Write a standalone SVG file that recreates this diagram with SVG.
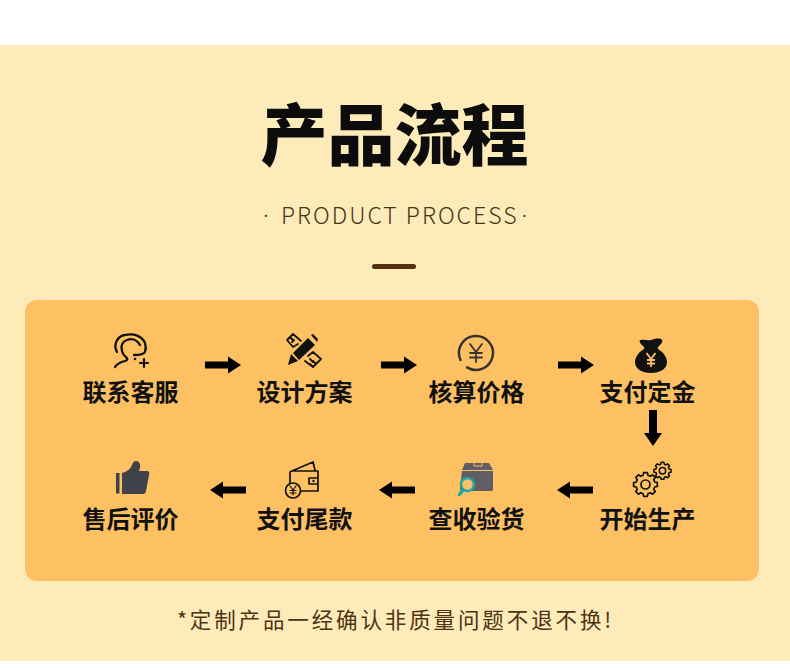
<svg xmlns="http://www.w3.org/2000/svg" width="790" height="670" viewBox="0 0 790 670">
<style>
.cjk{font-family:"Noto Sans CJK SC","Noto Sans",sans-serif}
.lab{font-size:24px;font-weight:700;fill:#111;text-anchor:middle}
.ln{fill:none;stroke:#111;stroke-width:2;stroke-linecap:round;stroke-linejoin:round}
.dk{fill:#111}
.arr{fill:#000}
.sub{font-size:23px;font-weight:300;fill:#4f3213;letter-spacing:2px}
</style>
<defs>
<path id="gear" d="M9.18-2.46L11.85-1.88V1.88L9.18 2.46L8.23 4.75L9.71 7.05L7.05 9.71L4.75 8.23L2.46 9.18L1.88 11.85H-1.88L-2.46 9.18L-4.75 8.23L-7.05 9.71L-9.71 7.05L-8.23 4.75L-9.18 2.46L-11.85 1.88V-1.88L-9.18-2.46L-8.23-4.75L-9.71-7.05L-7.05-9.71L-4.75-8.23L-2.46-9.18L-1.88-11.85H1.88L2.46-9.18L4.75-8.23L7.05-9.71L9.71-7.05L8.23-4.75Z"/>
</defs>
<rect width="790" height="670" fill="#fff"/>
<rect y="45" width="790" height="616" fill="#FDEBB9"/>
<text class="cjk" x="394.500" y="160" font-size="67" font-weight="900" fill="#0c0c0c" text-anchor="middle">产品流程</text>
<text class="sub" x="263" y="224" font-family="Noto Sans,sans-serif">·</text>
<text class="sub cjk" x="281" y="224">PRODUCT PROCESS</text>
<text class="sub" x="521.500" y="224" font-family="Noto Sans,sans-serif">·</text>
<rect x="372" y="264" width="44" height="5" rx="2.500" fill="#56300f"/>
<rect x="25" y="300" width="734" height="281" rx="12" fill="#FDC163"/>
<g id="connectors" class="arr">
<path d="M205 361.500h23v-5l13 8.500-13 8.500v-5h-23z"/>
<path d="M381 361.500h23v-5l13 8.500-13 8.500v-5h-23z"/>
<path d="M558 361.500h23v-5l13 8.500-13 8.500v-5h-23z"/>
<path d="M649 410h8v23h5l-9 13-9-13h5z"/>
<path d="M593 486.500h-23v-5l-13 8.500 13 8.500v-5h23z"/>
<path d="M415 486.500h-23v-5l-13 8.500 13 8.500v-5h23z"/>
<path d="M246 486.500h-23v-5l-13 8.500 13 8.500v-5h23z"/>
</g>
<g id="node-contact">
<path class="ln" style="stroke-width:2.300" d="M115 367c2-3 6-5 10-6 3-1 3-2 1-4-2-1-3-3-4-6-2-5 1-10 5-11 5-2 10 0 13 5M117 352c-4-7 0-16 8-17 9-2 17 1 20 8 1 3 1 6 0 9-1 2-6 3-11 3"/>
<circle cx="135" cy="359" r="1.300" class="dk"/>
<path class="ln" style="stroke-width:2.200" d="M144 359v8M140 363h8"/>
<text class="cjk lab" x="130.500" y="401">联系客服</text>
</g>
<g id="node-design">
<path class="ln" d="M298 344l-5 3-6-7 6-6 8 7M290 337l3 3M294 340l-2 2M308 356l5-4 8 7-8 8-8-6M313 367l-3-3M316 364l-3-3M310 359l3 3" style="stroke-width:1.800"/>
<path class="dk" d="M293 353l15-15 7 7-16 15z"/>
<path class="dk" d="M288 365l3-11 7 7z"/>
<path class="dk" d="M311 335l2-1 5 5-1 3z"/>
<text class="cjk lab" x="304.500" y="401">设计方案</text>
</g>
<g id="node-quote">
<path fill="none" stroke="#3a3230" stroke-width="2.500" stroke-linecap="round" d="M460.500 360A17 17 0 1 1 467 367.400"/>
<path class="ln" d="M470 344l6 8 6-8M476 352v10M470 353h12M470 357.500h12" style="stroke:#3a3230;stroke-width:1.800"/>
<text class="cjk lab" x="476.500" y="401">核算价格</text>
</g>
<g id="node-deposit">
<path class="dk" d="M641 340c3-1 7 1 10 0s7-2 10-1c2 1 2 3-1 6-2 2-3 3-2 4 5 3 9 8 9 13 0 7-7 11-16 11s-16-4-16-11c0-5 4-10 9-13 1-1 0-2-2-4-3-3-3-5-1-5z"/>
<path fill="none" stroke="#FDC163" stroke-width="1.800" d="M646.500 353l4.500 6 4.500-6M651 359v8M647 360h8M647 363.500h8"/>
<text class="cjk lab" x="647.500" y="401">支付定金</text>
</g>
<g id="node-production">
<use href="#gear" transform="translate(645.500 484.500)" fill="none" stroke="#111" stroke-width="1.700" stroke-linejoin="round"/>
<circle cx="645.500" cy="484.500" r="4.500" class="ln" style="stroke-width:1.700"/>
<use href="#gear" transform="translate(662.500 470.800) scale(.72)" fill="none" stroke="#111" stroke-width="2.200" stroke-linejoin="round"/>
<circle cx="662.500" cy="470.800" r="3.200" class="ln" style="stroke-width:1.500"/>
<text class="cjk lab" x="647.500" y="528">开始生产</text>
</g>
<g id="node-inspect">
<path fill="#5f5f63" d="M462 470l3-7h24l4 7v19c0 1.500-1 2-2 2h-29c-1 0-2-.5-2-2z"/>
<path fill="none" stroke="#FDC163" stroke-width="1" d="M462 470.500h31M474 463v3h8v-3"/>
<circle cx="467.500" cy="484.500" r="6.500" fill="#FDC163" stroke="#1fa6a4" stroke-width="2.500"/>
<path d="M463 490l-3.500 4.500" stroke="#1fa6a4" stroke-width="3.500" stroke-linecap="round"/>
<text class="cjk lab" x="476.500" y="528">查收验货</text>
</g>
<g id="node-balance">
<path class="ln" d="M290 484v-11c0-1.500 1-2 2-2h26v20h-18M292 471l21-9 2 8M309 478h9v6h-9z" style="stroke-width:1.700"/>
<circle cx="313.500" cy="481" r="1.200" class="dk"/>
<circle cx="293" cy="490.500" r="7.500" fill="#FDC163" stroke="#111" stroke-width="1.700"/>
<path class="ln" d="M290 486l3 4 3-4M293 490v5M290 490.500h6M290 493h6" style="stroke-width:1.200"/>
<text class="cjk lab" x="304.500" y="528">支付尾款</text>
</g>
<g id="node-review">
<rect x="116" y="473" width="3.500" height="20.500" fill="#3f4248"/>
<path fill="#3f4248" d="M122 473c4-1 8-3 10-8 1-3 2-4 4-4 3 0 5 3 4 7l-1 3h8c2 0 3 2 2 4l-3 16c0 2-2 3-3 3h-21z"/>
<text class="cjk lab" x="130.500" y="528">售后评价</text>
</g>
<text class="cjk" x="395.500" y="628" font-size="21.500" font-weight="400" fill="#4f3213" text-anchor="middle" letter-spacing="2.880">*定制产品一经确认非质量问题不退不换!</text>
</svg>
